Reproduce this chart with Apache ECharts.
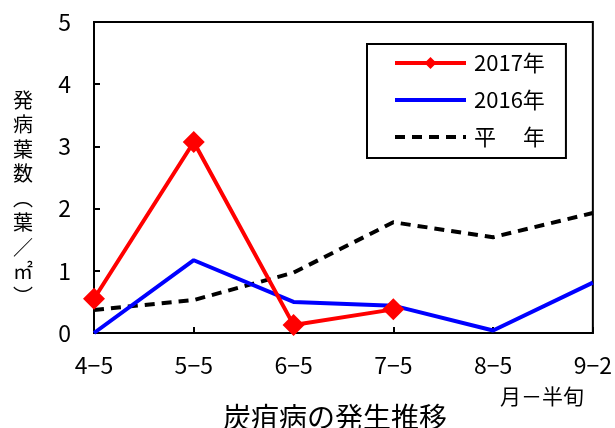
<!DOCTYPE html>
<html>
<head>
<meta charset="utf-8">
<script src="https://cdn.jsdelivr.net/npm/echarts@6/dist/echarts.min.js"></script>
<style>
  html, body { margin: 0; padding: 0; background: #fff; }
  #chart { width: 615px; height: 428px; }
</style>
</head>
<body>
<div id="chart"></div>
<script>
// 半旬ごとの調査時期
const periods = ['4-5', '5-5', '6-5', '7-5', '8-5', '9-2'];
// 発病葉数（葉／㎡）
const y2017 = [0.55, 3.07, 0.13, 0.38, null, null];
const y2016 = [0.0, 1.17, 0.50, 0.44, 0.04, 0.81];
const normalYear = [0.37, 0.53, 0.97, 1.78, 1.54, 1.93];
const yTicks = [0, 1, 2, 3, 4, 5];

const FONT = '"Noto Sans CJK JP", "Noto Sans", sans-serif';
const NUM_FONT = '"Liberation Sans Narrow", "Noto Sans CJK JP", sans-serif';
const yAxisTitle = '発病葉数︵葉／㎡︶';

const chart = echarts.init(document.getElementById('chart'), null, { renderer: 'canvas' });

chart.setOption({
  animation: false,
  backgroundColor: '#fff',
  textStyle: { fontFamily: FONT, color: '#000' },
  grid: {
    left: 94, right: 21, top: 22, bottom: 95,
    show: true, borderColor: '#000', borderWidth: 2
  },
  legend: {
    orient: 'vertical',
    left: 367, top: 44,
    width: 197,
    padding: [8, 21, 10, 26],
    itemWidth: 71, itemHeight: 15, itemGap: 15,
    borderColor: '#000', borderWidth: 2,
    backgroundColor: '#fff',
    textStyle: { fontFamily: NUM_FONT, fontSize: 22, color: '#000', padding: [0, 0, 0, 3] },
    data: [
      { name: '2017年', lineStyle: { width: 4 } },
      { name: '2016年', itemStyle: { opacity: 0 }, lineStyle: { width: 4 } },
      { name: '平　 年', itemStyle: { opacity: 0 }, lineStyle: { width: 4 } }
    ]
  },
  xAxis: {
    type: 'category',
    data: periods,
    boundaryGap: false,
    axisLine: { lineStyle: { color: '#000', width: 2 } },
    axisTick: { inside: true, length: 6, lineStyle: { color: '#000', width: 2 } },
    axisLabel: {
      fontFamily: NUM_FONT, fontSize: 23, color: '#000', margin: 21,
      formatter: v => v.replace('-', '−')
    }
  },
  yAxis: {
    type: 'value',
    min: yTicks[0], max: yTicks[yTicks.length - 1], interval: 1,
    splitLine: { show: false },
    axisLine: { show: true, lineStyle: { color: '#000', width: 2 } },
    axisTick: { show: true, inside: true, length: 6, lineStyle: { color: '#000', width: 2 } },
    axisLabel: { fontFamily: NUM_FONT, fontSize: 23, color: '#000', margin: 23 }
  },
  graphic: [
    {
      type: 'text', left: 13, top: 88,
      style: {
        text: yAxisTitle.split('').join('\n'),
        font: '20px ' + FONT, fill: '#000', lineHeight: 24.5, align: 'center'
      }
    },
    {
      type: 'text', left: 500, top: 386,
      style: { text: '月－半旬', font: '21px ' + FONT, fill: '#000' }
    },
    {
      type: 'text', left: 223, top: 403,
      style: { text: '炭疽病の発生推移', font: '28px ' + FONT, fill: '#000' }
    }
  ],
  series: [
    {
      name: '平　 年', type: 'line', data: normalYear, z: 1,
      showSymbol: false, symbol: 'none',
      lineStyle: { color: '#000', width: 4, type: [10, 7] },
      itemStyle: { color: '#000' }
    },
    {
      name: '2016年', type: 'line', data: y2016, z: 2,
      showSymbol: false, symbol: 'none',
      lineStyle: { color: '#0000ff', width: 4 },
      itemStyle: { color: '#0000ff' }
    },
    {
      name: '2017年', type: 'line', data: y2017, z: 3,
      symbol: 'diamond', symbolSize: 22, showSymbol: true,
      lineStyle: { color: '#ff0000', width: 4 },
      itemStyle: { color: '#ff0000' }
    }
  ]
});
</script>
</body>
</html>
